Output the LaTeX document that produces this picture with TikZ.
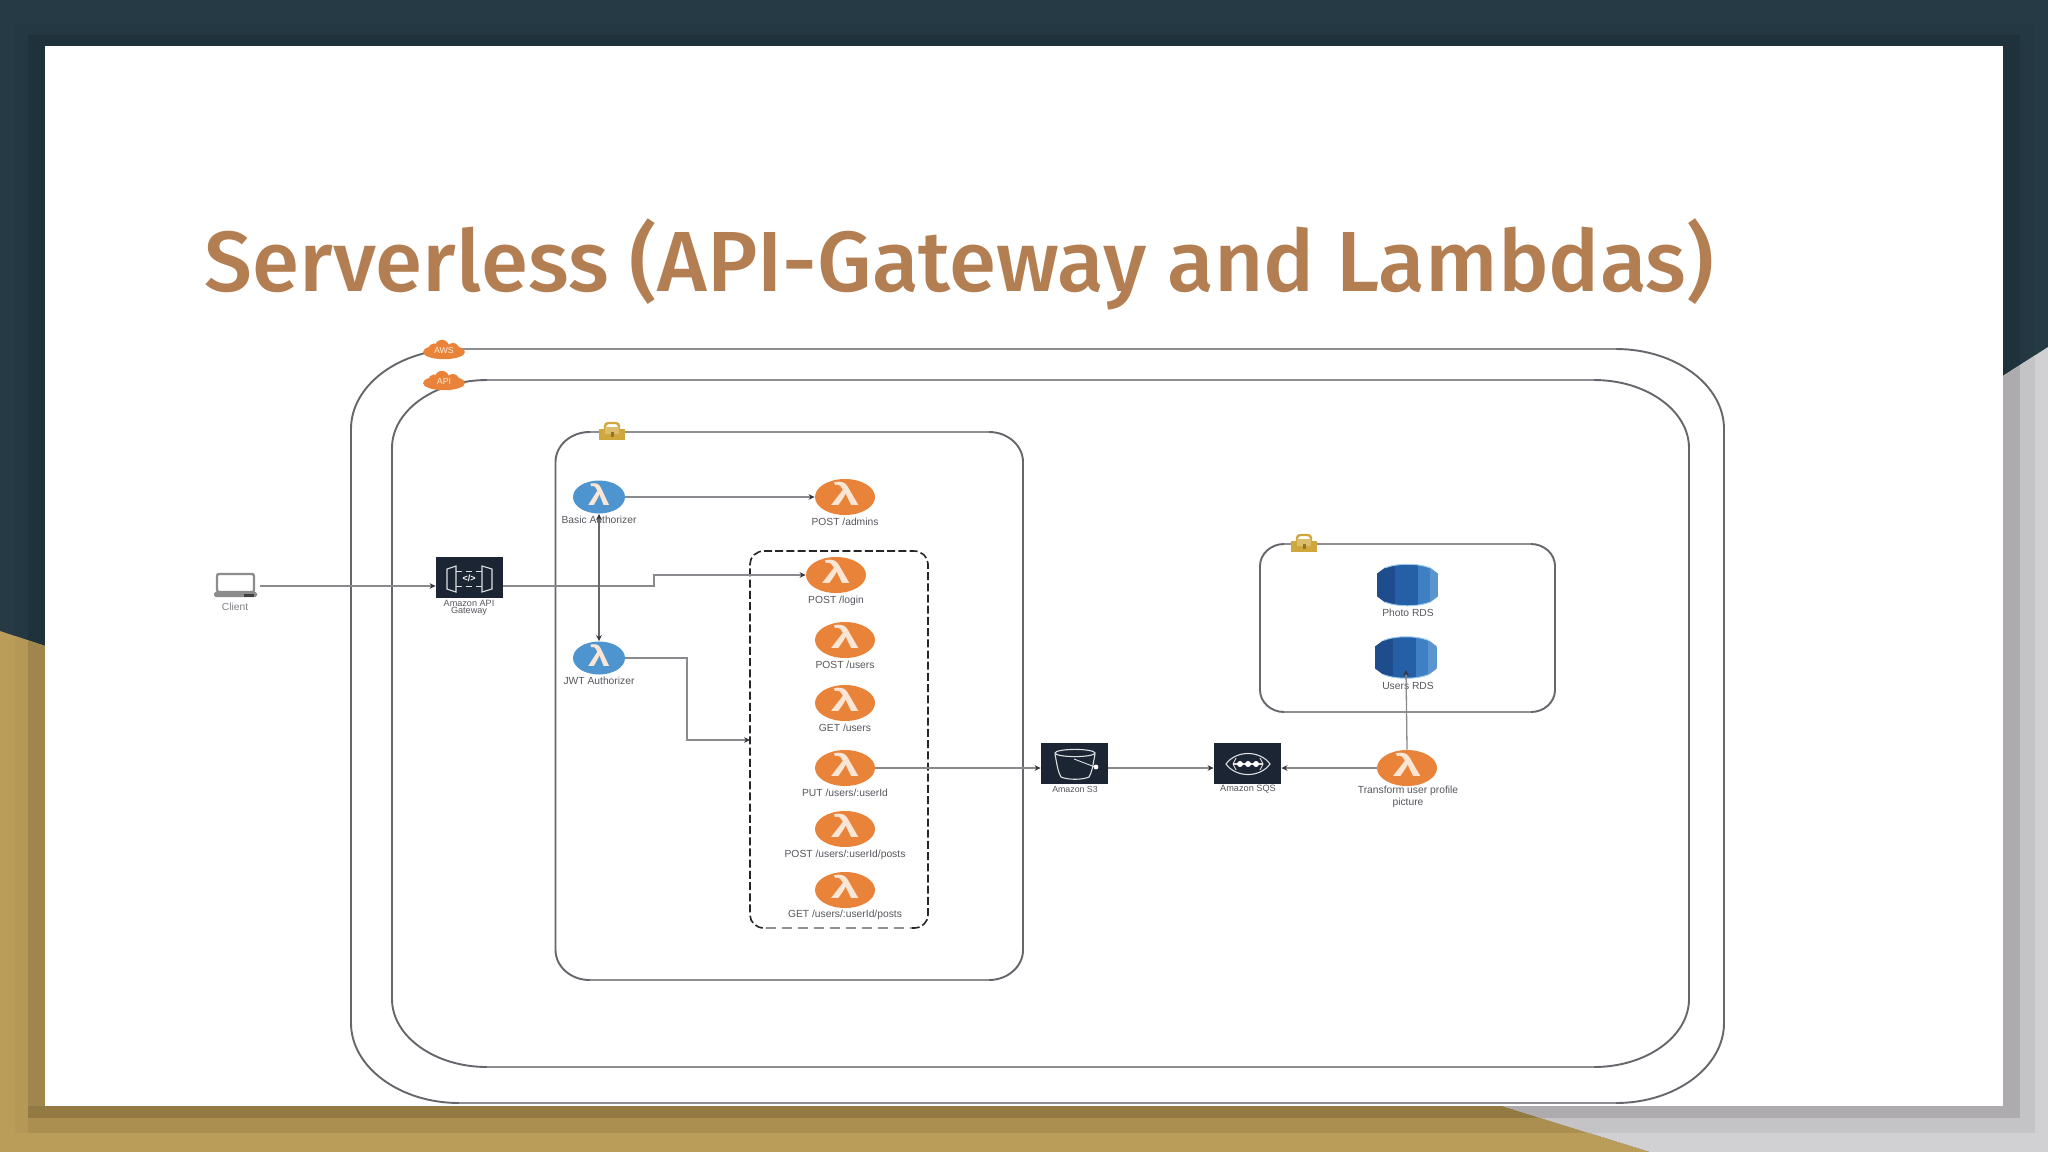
\documentclass[tikz,border=0pt]{standalone}
\usepackage{fontspec}
\setmainfont{Liberation Sans}
\newfontfamily\titlefont{Fira Sans Medium}
\usetikzlibrary{arrows.meta,shapes.geometric}
\definecolor{titlecol}{HTML}{B37F52}
\definecolor{frameline}{HTML}{66666C}
\definecolor{hedgecol}{HTML}{8F8F93}
\definecolor{wire}{HTML}{8A8A8E}
\definecolor{tipcol}{HTML}{33363C}
\definecolor{labelcol}{HTML}{55575D}
\definecolor{orangeL}{HTML}{E9833A}
\definecolor{blueL}{HTML}{4E94CE}
\definecolor{navy}{HTML}{1B2534}
\definecolor{goldlock}{HTML}{D0A73C}
\definecolor{lamO}{HTML}{FBE6D6}
\definecolor{tealA}{HTML}{253A45}\definecolor{tealB}{HTML}{233843}\definecolor{tealC}{HTML}{1F323C}
\definecolor{goldA}{HTML}{BB9D5A}\definecolor{goldB}{HTML}{B59855}\definecolor{goldC}{HTML}{9F864D}\definecolor{goldD}{HTML}{937A43}\definecolor{goldE}{HTML}{AB8F50}
\definecolor{grayA}{HTML}{D1D1D3}\definecolor{grayB}{HTML}{C4C3C5}\definecolor{grayC}{HTML}{ADABAD}
\definecolor{rdsA}{HTML}{1F4C8C}\definecolor{rdsB}{HTML}{2560A6}\definecolor{rdsC}{HTML}{3F80C4}\definecolor{rdsD}{HTML}{5B95CF}\definecolor{rdsE}{HTML}{9CCBEE}
\tikzset{
  x=0.5pt,y=-0.5pt,
  lam/.style={shape=ellipse,inner sep=0pt,minimum width=30pt,minimum height=18pt,text=lamO},
  lamO/.style={lam,fill=orangeL},
  lamB/.style={lam,fill=blueL,minimum width=26pt,minimum height=16.5pt},
  service/.style={shape=rectangle,inner sep=0pt,fill=navy,minimum width=33.5pt,minimum height=20.5pt},
  ghost/.style={shape=rectangle,inner sep=0pt},
  lab/.style={inner sep=0pt,align=center,text=labelcol,font=\fontsize{5.15}{4.2}\selectfont},
  wired/.style={draw=wire,line width=0.65pt},
  flow/.style={wired,-{Stealth[length=3pt,width=2.8pt,color=tipcol]}},
  flowboth/.style={draw=frameline,line width=0.6pt,{Stealth[length=3pt,width=2.8pt,color=tipcol]}-{Stealth[length=3pt,width=2.8pt,color=tipcol]}},
  container/.style={draw=frameline,line width=0.95pt},
  hedge/.style={draw=hedgecol,line width=1pt},
  icon/.style={draw=white!85!navy,line width=0.55pt},
}
\newcommand{\lamglyph}{\makebox[0pt]{\raisebox{-.43em}[0pt][0pt]{\scalebox{1.65}[1]{\fontsize{15.5}{15.5}\selectfont\bfseries λ}}}}
\newcommand{\lamglyphB}{\makebox[0pt]{\raisebox{-.43em}[0pt][0pt]{\scalebox{1.35}[1]{\fontsize{14.5}{14.5}\selectfont\bfseries λ}}}}
% elliptic-cornered box: style, left, top, right, bottom, rx, ry
\newcommand{\rrect}[7]{%
  \pgfmathsetmacro\rrcx{#6*0.45}\pgfmathsetmacro\rrcy{#7*0.45}%
  \draw[#1] (#2+#6,#3) -- (#4-#6,#3)
    .. controls (#4-\rrcx,#3) and (#4,#3+\rrcy) .. (#4,#3+#7)
    -- (#4,#5-#7)
    .. controls (#4,#5-\rrcy) and (#4-\rrcx,#5) .. (#4-#6,#5)
    -- (#2+#6,#5)
    .. controls (#2+\rrcx,#5) and (#2,#5-\rrcy) .. (#2,#5-#7)
    -- (#2,#3+#7)
    .. controls (#2,#3+\rrcy) and (#2+\rrcx,#3) .. (#2+#6,#3) -- cycle;}
\newcommand{\bands}[3]{%
  \fill[#1] (0,0) rectangle (2048,1152);
  \fill[#2] (15,24) rectangle (2035,1133);
  \fill[#3] (28,35) rectangle (2020,1118);}
\newcommand{\cloudicon}[3]{%
  \begin{scope}[shift={(#1,#2)}]
    \fill[orangeL] (0,4) ellipse (10.5pt and 3.6pt);
    \fill[orangeL] (-2,-1) circle (3.6pt);
    \fill[orangeL] (-10,1) circle (2.8pt);
    \fill[orangeL] (9,1) circle (3pt);
    \node[inner sep=0pt,text=white!85!orange,font=\fontsize{4.4}{4.4}\selectfont] at (0,2) {#3};
  \end{scope}}
\newcommand{\lockicon}[2]{%
  \begin{scope}[shift={(#1,#2)}]
    \draw[goldlock,line width=1.2pt,rounded corners=1.6pt] (-7,0) -- (-7,-8) -- (7,-8) -- (7,0);
    \fill[goldlock] (-13,-2) rectangle (13,9);
    \fill[goldlock!75!white] (-7,-4) rectangle (7,3);
    \fill[goldlock!70!black] (-1.5,1) rectangle (1.5,6);
  \end{scope}}
\newcommand{\rdsicon}[2]{%
  \begin{scope}[shift={(#1,#2)}]
    \begin{scope}
      \clip (-31,-11) -- (-23,-17) .. controls (-10,-22) and (10,-22) .. (23,-17) -- (31,-11) -- (31,11) -- (23,17) .. controls (10,22) and (-10,22) .. (-23,17) -- (-31,11) -- cycle;
      \fill[rdsA] (-31,-24) rectangle (-13,24);
      \fill[rdsB] (-13,-24) rectangle (10,24);
      \fill[rdsC] (10,-24) rectangle (22,24);
      \fill[rdsD] (22,-24) rectangle (31,24);
    \end{scope}
    \draw[rdsE,line width=0.5pt] (-23,-17) .. controls (-10,-22) and (10,-22) .. (23,-17);
    \draw[rdsE,line width=0.5pt] (-23,17) .. controls (-10,22) and (10,22) .. (23,17);
  \end{scope}}
\begin{document}
\begin{tikzpicture}
\useasboundingbox (0,0) rectangle (2048,1152);
% slide background: three regions, each with its stepped shadow bands
\begin{scope}
  \bands{tealA}{tealB}{tealC}
\end{scope}
\begin{scope}
  \clip (0,631) -- (45,646) -- (45,1106) -- (1503,1106) -- (1650,1152) -- (0,1152) -- cycle;
  \bands{goldA}{goldB}{goldC}
  \fill[goldE] (28,1118) rectangle (2020,1133);
  \fill[goldD] (28,1106) rectangle (2020,1118);
\end{scope}
\begin{scope}
  \clip (2048,347) -- (2003,376) -- (2003,1106) -- (1503,1106) -- (1650,1152) -- (2048,1152) -- cycle;
  \bands{grayA}{grayB}{grayC}
\end{scope}
\fill[white] (45,46) rectangle (2003,1106);

% title
\node[anchor=base west,inner sep=0pt,text=titlecol] (title) at (204.5,291)
  {\titlefont\fontsize{42.7}{42.7}\selectfont Serverless (API-Gateway and Lambdas)};

% containers
\rrect{container}{351}{349}{1724}{1103}{108}{80}
\draw[hedge] (459,349) -- (1616,349) (459,1103) -- (1616,1103);
\rrect{container}{392}{380}{1689}{1067}{95}{68}
\draw[hedge] (487,380) -- (1594,380) (487,1067) -- (1594,1067);
\rrect{container}{555.5}{432}{1023}{980}{34}{30}
\draw[hedge] (590,432) -- (989,432) (590,980) -- (989,980);
\rrect{container}{1260}{544}{1555}{712}{24}{22}
\draw[hedge] (1284,544) -- (1531,544) (1284,712) -- (1531,712);
\rrect{draw=black!85,line width=0.8pt,dash pattern=on 4pt off 1.6pt}{750}{551}{928}{928}{14}{13}
\draw[white,line width=1.4pt] (766,928) -- (912,928);
\draw[draw=hedgecol,line width=0.8pt,dash pattern=on 5pt off 3pt] (766,928) -- (912,928);

% container badges
\cloudicon{444}{348}{AWS}
\cloudicon{444}{379}{API}
\lockicon{612}{431}
\lockicon{1304}{543}

% client
\node[ghost,minimum width=24.5pt,minimum height=12pt] (client) at (235.5,586) {};
\draw[fill=white,draw=black!45,line width=1.2pt,rounded corners=1pt] (217,574) rectangle (254,592);
\fill[black!45,rounded corners=0.8pt] (214,592) rectangle (257,597);
\fill[black!75] (244,593.5) rectangle (254,596.5);
\node[lab,text=labelcol!75] (clientlab) at (235,607) {Client};

% services
\node[service,minimum width=33.5pt,minimum height=20.5pt] (api) at (469.5,577.5) {};
\draw[icon] (447,569) -- (456,566) -- (456,592) -- (447,589) -- cycle;
\draw[icon] (492,569) -- (482,566) -- (482,592) -- (492,589) -- cycle;
\draw[icon,line width=0.4pt,densely dashed] (456,571) -- (482,571) (456,586) -- (482,586);
\node[inner sep=0pt,text=white,font=\fontsize{4.5}{4.5}\selectfont\bfseries] (apiglyph) at (469,578) {</>};
\node[lab,font=\fontsize{4.55}{3.6}\selectfont] (apilab) at (469,607.5) {Amazon API\\Gateway};

\node[service] (s3) at (1074.5,763) {};
\draw[icon] (1075,753) ellipse (10pt and 1.8pt);
\draw[icon] (1055,754) .. controls (1057,765) and (1058,772) .. (1061,777) .. controls (1068,780) and (1082,780) .. (1089,777) .. controls (1092,772) and (1093,765) .. (1095,754);
\draw[icon,line width=0.45pt] (1074,759) -- (1095,767);
\fill[white] (1096,767) circle (1.2pt);
\node[lab,font=\fontsize{4.4}{4.4}\selectfont] (s3lab) at (1075,789.5) {Amazon S3};

\node[service] (sqs) at (1247.5,763) {};
\draw[icon] (1226,764) .. controls (1236,750) and (1260,750) .. (1270,764) .. controls (1260,778) and (1236,778) .. (1226,764) -- cycle;
\draw[icon] (1233,764) -- (1263,764);
\fill[white] (1240,764) circle (1.5pt) (1248,764) circle (1.5pt) (1256,764) circle (1.5pt);
\draw[icon,line width=0.45pt] (1236,758) -- (1233,764) -- (1236,770) (1260,758) -- (1263,764) -- (1260,770);
\node[lab,font=\fontsize{4.6}{4.6}\selectfont] (sqslab) at (1248,789.5) {Amazon SQS};

% databases
\node[ghost,minimum width=31.5pt,minimum height=20pt] (photos) at (1407.5,585) {};
\rdsicon{1407.5}{585}
\node[lab] (photoslab) at (1408,613) {Photo RDS};
\node[ghost,minimum width=31.5pt,minimum height=20pt] (users) at (1406,657.5) {};
\rdsicon{1406}{657.5}
\node[lab] (userslab) at (1408,686) {Users RDS};
\coordinate (usersin) at (1406,670);

% authorizers
\node[lamB] (basic) at (599,497) {\lamglyphB};
\node[lab] (basiclab) at (599,520) {Basic Authorizer};
\node[lamB] (jwt) at (599,658) {\lamglyphB};
\node[lab] (jwtlab) at (599,681) {JWT Authorizer};

% functions
\node[lamO] (admins) at (845,497) {\lamglyph};
\node[lab] (adminslab) at (845,522) {POST /admins};
\node[lamO] (login) at (836,575) {\lamglyph};
\node[lab] (loginlab) at (836,601) {POST /login};
\node[lamO] (postusers) at (845,640) {\lamglyph};
\node[lab] (postuserslab) at (845,665) {POST /users};
\node[lamO] (getusers) at (845,703) {\lamglyph};
\node[lab] (getuserslab) at (845,728) {GET /users};
\node[lamO] (putuser) at (845,768) {\lamglyph};
\node[lab] (putuserlab) at (845,793) {PUT /users/:userId};
\node[lamO] (postposts) at (845,829) {\lamglyph};
\node[lab] (postpostslab) at (845,855) {POST /users/:userId/posts};
\node[lamO] (getposts) at (845,890) {\lamglyph};
\node[lab] (getpostslab) at (845,915) {GET /users/:userId/posts};
\node[lamO] (transform) at (1407,768) {\lamglyph};
\node[lab] (transformlab) at (1408,797) {Transform user profile\\picture};

% connectors
\coordinate (apibend) at (654,575);
\coordinate (jwtbend) at (687,658);
\coordinate (dashin) at (750,740);
\draw[flow] (client.east) -- (client.east -| api.west);
\draw[flow] (client.east -| api.east) -- (client.east -| apibend) -- (apibend) -- (login.west);
\draw[flowboth] (basic.south) -- (jwt.north);
\draw[flow] (basic.east) -- (admins.west);
\draw[flow] (jwt.east) -- (jwtbend) -- (jwtbend |- dashin) -- (dashin);
\draw[flow] (putuser.east) -- (putuser.east -| s3.west);
\draw[flow] (putuser.east -| s3.east) -- (putuser.east -| sqs.west);
\draw[flow] (transform.west) -- (transform.west -| sqs.east);
\draw[flow] (transform.north) -- (usersin);
\end{tikzpicture}
\end{document}
